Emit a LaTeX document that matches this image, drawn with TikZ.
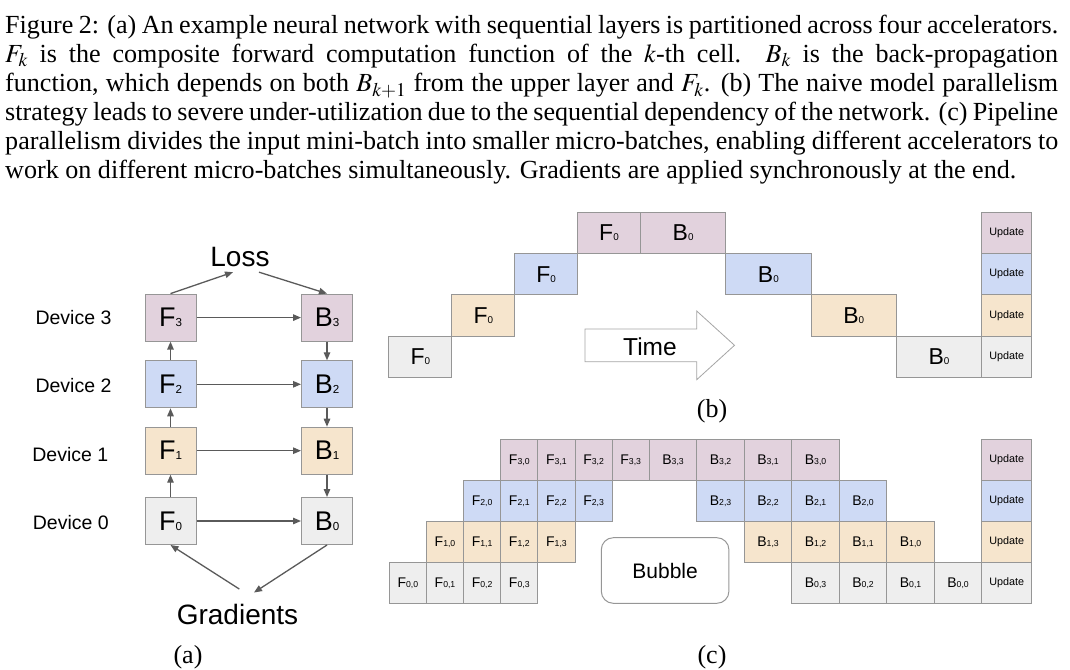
\documentclass[tikz,border=0pt]{standalone}
\usepackage{mathptmx}
\usepackage{fontspec}
\setmainfont{Liberation Serif}
\setsansfont{Liberation Sans}
\usetikzlibrary{arrows.meta}

\definecolor{devthree}{RGB}{226,210,221}
\definecolor{devtwo}{RGB}{206,218,245}
\definecolor{devone}{RGB}{246,229,205}
\definecolor{devzero}{RGB}{238,238,238}
\definecolor{cellgray}{RGB}{150,150,150}
\definecolor{arrowgray}{RGB}{90,90,90}
\definecolor{timegray}{RGB}{165,165,165}

% small index digits sitting on the baseline
\newcommand{\idx}[2][0.43]{\scalebox{#1}{#2}}

\tikzset{
  arr/.style={draw=arrowgray, line width=1.3pt, ->, >={Triangle[length=8pt,width=6.5pt]}},
  fbox/.style={draw=cellgray, line width=1pt, minimum width=51pt, minimum height=47pt, inner sep=0pt,
    font=\sffamily\fontsize{27}{30}\selectfont},
  devlabel/.style={font=\sffamily\fontsize{19.5}{22}\selectfont, inner sep=0pt},
  biglabel/.style={font=\sffamily\fontsize{28}{32}\selectfont},
  bcell/.style={draw=cellgray, line width=1pt, minimum height=41.25pt, inner sep=0pt,
    font=\sffamily\fontsize{23}{25}\selectfont},
  ccell/.style={draw=cellgray, line width=1pt, minimum height=41pt, inner sep=0pt,
    font=\sffamily\fontsize{14}{16}\selectfont},
  updcell/.style={font=\sffamily\fontsize{10.8}{12}\selectfont, minimum width=50pt},
  sublabel/.style={font=\fontsize{26}{29}\selectfont, inner sep=0pt}
}

\begin{document}
\begin{tikzpicture}[x=1pt,y=-1pt]
  \useasboundingbox (0,0) rectangle (1070,669);

  % caption
  \node[anchor=base west, inner sep=0pt, text width=1053pt, align=justify,
    font=\fontsize{26.1}{29.1}\selectfont] (caption) at (5,33.5)
    {Figure 2: (a) An example neural network with sequential layers is partitioned across four accelerators.\linebreak
     $F_k$ is the composite forward computation function of the $k$-th cell. $B_k$ is the back-propagation\linebreak
     function, which depends on both $B_{k+1}$ from the upper layer and $F_k$. (b) The naive model parallelism\linebreak
     strategy leads to severe under-utilization due to the sequential dependency of the network. (c) Pipeline\linebreak
     parallelism divides the input mini-batch into smaller micro-batches, enabling different accelerators to\linebreak
     work on different micro-batches simultaneously. Gradients are applied synchronously at the end.};

  % (a) layers on four devices
  \node[devlabel] (dev3) at (73.5,317.5) {Device 3};
  \node[devlabel] (dev2) at (73.5,385.8) {Device 2};
  \node[devlabel] (dev1) at (70.3,454.2) {Device 1};
  \node[devlabel] (dev0) at (70.8,522.5) {Device 0};

  \node[fbox, fill=devthree] (F3) at (170.5,317.6) {F\idx{3}};
  \node[fbox, fill=devtwo]   (F2) at (170.5,384.3) {F\idx{2}};
  \node[fbox, fill=devone]   (F1) at (170.5,450.7) {F\idx{1}};
  \node[fbox, fill=devzero]  (F0) at (170.5,521.0) {F\idx{0}};
  \node[fbox, fill=devthree] (B3) at (327,317.6) {B\idx{3}};
  \node[fbox, fill=devtwo]   (B2) at (327,384.3) {B\idx{2}};
  \node[fbox, fill=devone]   (B1) at (327,450.7) {B\idx{1}};
  \node[fbox, fill=devzero]  (B0) at (327,521.0) {B\idx{0}};

  \node[biglabel, inner sep=5.5pt] (Loss) at (240,256.7) {Loss};
  \node[biglabel, inner sep=0pt] (Grad) at (237.5,614) {Gradients};

  \draw[arr] (F0) -- (F1);
  \draw[arr] (F1) -- (F2);
  \draw[arr] (F2) -- (F3);
  \draw[arr] (B3) -- (B2);
  \draw[arr] (B2) -- (B1);
  \draw[arr] (B1) -- (B0);
  \draw[arr] (F3) -- (B3);
  \draw[arr] (F2) -- (B2);
  \draw[arr] (F1) -- (B1);
  \draw[arr] (F0) -- (B0);
  \draw[arr] (F3.north) -- ([xshift=-7pt]Loss.south);
  \draw[arr] ([xshift=19pt]Loss.south) -- (B3.north);
  \draw[arr] ([xshift=1.8pt,yshift=14.5pt]Grad.north) -- (F0.south);
  \draw[arr] (B0.south) -- ([xshift=16.5pt,yshift=11pt]Grad.north);

  \node[sublabel] (suba) at (188,657) {(a)};

  % (b) naive model parallelism
  \node[bcell, minimum width=62.85pt, fill=devzero]  (nf0) at (420.4,356.7) {F\idx{0}};
  \node[bcell, minimum width=62.85pt, fill=devone]   (nf1) at (483.3,315.4) {F\idx{0}};
  \node[bcell, minimum width=62.85pt, fill=devtwo]   (nf2) at (546.1,274.2) {F\idx{0}};
  \node[bcell, minimum width=62.85pt, fill=devthree] (nf3) at (609.0,232.9) {F\idx{0}};
  \node[bcell, minimum width=85.3pt, fill=devthree]  (nb3) at (683.1,232.9) {B\idx{0}};
  \node[bcell, minimum width=85.3pt, fill=devtwo]    (nb2) at (768.4,274.2) {B\idx{0}};
  \node[bcell, minimum width=85.3pt, fill=devone]    (nb1) at (853.7,315.4) {B\idx{0}};
  \node[bcell, minimum width=85.3pt, fill=devzero]   (nb0) at (939.0,356.7) {B\idx{0}};
  \node[bcell, updcell, fill=devthree] (nu3) at (1006.7,232.9) {Update};
  \node[bcell, updcell, fill=devtwo]   (nu2) at (1006.7,274.2) {Update};
  \node[bcell, updcell, fill=devone]   (nu1) at (1006.7,315.4) {Update};
  \node[bcell, updcell, fill=devzero]  (nu0) at (1006.7,356.7) {Update};

  \draw[draw=timegray, line width=0.8pt, fill=white] (585,329) -- (696.7,329) -- (696.7,311)
    -- (734.5,345.3) -- (696.7,379.7) -- (696.7,361.7) -- (585,361.7) -- cycle;
  \node[font=\sffamily\fontsize{24.5}{27}\selectfont, inner sep=0pt] (time) at (650,346.7) {Time};

  \node[sublabel] (subb) at (712,411) {(b)};

  % (c) pipeline parallelism
  \foreach \i/\col in {0/devzero,1/devone,2/devtwo,3/devthree} {
    \foreach \j in {0,...,3} {
      \node[ccell, minimum width=37.14pt, fill=\col] (pf\i\j)
        at ({389.3+37.14*(\i+\j)+18.57},{582.8-41*\i}) {F\idx[0.62]{\i,\j}};
      \node[ccell, minimum width=47.5pt, fill=\col] (pb\i\j)
        at ({649.3+47.5*(6-\i-\j)+23.75},{582.8-41*\i}) {B\idx[0.62]{\i,\j}};
    }
    \node[ccell, updcell, fill=\col] (pu\i) at ({1006.75},{582.8-41*\i}) {Update};
  }

  \node[draw=cellgray, line width=1pt, rounded corners=12pt, minimum width=127.6pt, minimum height=65.6pt,
    font=\sffamily\fontsize{21}{24}\selectfont] (bubble) at (665.1,570.5) {Bubble};

  \node[sublabel] (subc) at (712,657) {(c)};
\end{tikzpicture}
\end{document}
